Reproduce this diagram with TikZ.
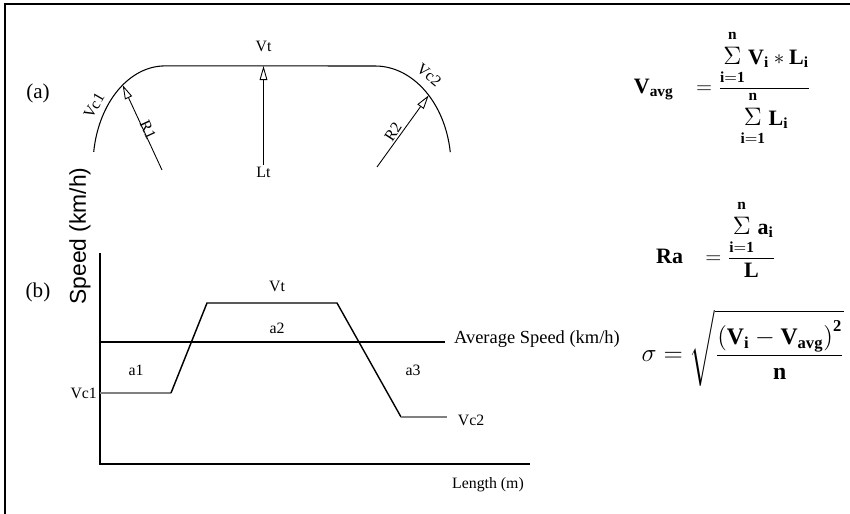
\documentclass[tikz,border=0pt]{standalone}
\usepackage{amsmath}
\usepackage{fontspec}
\setmainfont{Liberation Serif}
\newfontfamily\axisfont{Liberation Sans}
\usetikzlibrary{arrows.meta,positioning,calc}
% summation with spaced limits
\newcommand{\limsum}[2]{\mathop{\text{\fontsize{14}{14}\selectfont$\Sigma$}}\limits^{\mathbf{#2}\rule[-3pt]{0pt}{0pt}}_{\rule{0pt}{8.5pt}\mathbf{#1}}}

\begin{document}
\begin{tikzpicture}[
  tag/.style={font=\fontsize{9}{10}\selectfont, inner sep=1pt},
  part/.style={font=\fontsize{12}{14}\selectfont},
  ray/.style={-{Triangle[open,length=8pt,width=4.4pt]}, line width=0.5pt},
  eqn/.style={font=\fontsize{12.5}{14}\selectfont, inner sep=0pt}
]
\useasboundingbox (0,0) rectangle (17,10.28);
% frame
\draw[line width=1.1pt] (17.1,10.2) -- (0.1,10.2) -- (0.1,-0.1);

% (a) plan of the curve
\node[part] (pa) at (0.76,8.42) {(a)};
\draw[line width=0.6pt] (1.874,7.24) arc[start angle=172, end angle=90, x radius=1.44, y radius=2]
  -- (7.5,8.96) arc[start angle=90, end angle=8, x radius=1.52, y radius=2];
\coordinate (c1) at (3.24,6.88);
\coordinate (c2) at (7.54,6.94);
\coordinate (pvc1) at ($(3.3,6.96)+(126:1.44 and 2)$);
\coordinate (pvc2) at ($(7.5,6.96)+(45:1.52 and 2)$);
\coordinate (pvt) at (5.27,8.96);
\node[tag] (vt) at (5.27,9.36) {Vt};
\node[tag] (lt) at (5.27,6.84) {Lt};
\draw[ray] (lt) -- (pvt);
\draw[ray] (c1) -- (pvc1);
\draw[ray] (c2) -- (pvc2);
\node[tag, rotate=60] (vc1) at (1.88,8.16) {Vc1};
\node[tag, rotate=-65] (r1) at (2.96,7.68) {R1};
\node[tag, rotate=-40] (vc2) at (8.58,8.78) {Vc2};
\node[tag, rotate=57] (r2) at (7.86,7.64) {R2};

% (b) speed profile
\node[part] (pb) at (0.76,4.44) {(b)};
\node[font=\axisfont\fontsize{13}{13}\selectfont, rotate=90] (speed) at (1.6,5.56) {Speed (km/h)};
\draw[line width=1pt] (2.0,5.22) -- (2.0,1.0) -- (10.6,1.0);
\node[tag, font=\fontsize{10.5}{12}\selectfont, anchor=west] (avg) at (9.04,3.5) {Average Speed (km/h)};
\draw[line width=0.6pt] (2.0,3.44) -- (8.9,3.44);
\draw[line width=0.8pt, gray] (2.0,2.42) -- (3.42,2.42);
\draw[line width=0.8pt] (3.42,2.42) -- (4.14,4.22) -- (6.74,4.22) -- (8.02,1.94);
\draw[line width=0.8pt, gray] (8.02,1.94) -- (8.94,1.94);
\node[tag] (vtb) at (5.54,4.56) {Vt};
\node[tag] (a2) at (5.54,3.72) {a2};
\node[tag] (a1) at (2.72,2.88) {a1};
\node[tag] (a3) at (8.26,2.88) {a3};
\node[tag, anchor=east] (vc1b) at (1.98,2.42) {Vc1};
\node[tag] (vc2b) at (9.42,1.88) {Vc2};
\node[tag] (len) at (9.76,0.58) {Length (m)};

% formulas
\node[eqn] (vavg) at (14.45,8.52) {$\mathbf{V}_{\mathbf{avg}}\ \ \ = \dfrac{\limsum{i=1}{n} \mathbf{V}_{\mathbf{i}} * \mathbf{L}_{\mathbf{i}}}{\limsum{i=1}{n} \mathbf{L}_{\mathbf{i}}}$};
\node[eqn] (ra) at (14.32,5.5) {$\mathbf{Ra}\ \ \ = \dfrac{\limsum{i=1}{n} \mathbf{a}_{\mathbf{i}}}{\mathbf{L}}$};
\node[eqn, font=\fontsize{13.5}{15}\selectfont] (sigma) at (14.86,3.32) {$\sigma = \sqrt{\dfrac{\left(\mathbf{V}_{\mathbf{i}} - \mathbf{V}_{\mathbf{avg}}\right)^{\mathbf{2}}}{\mathbf{n}}}$};
\end{tikzpicture}
\end{document}
